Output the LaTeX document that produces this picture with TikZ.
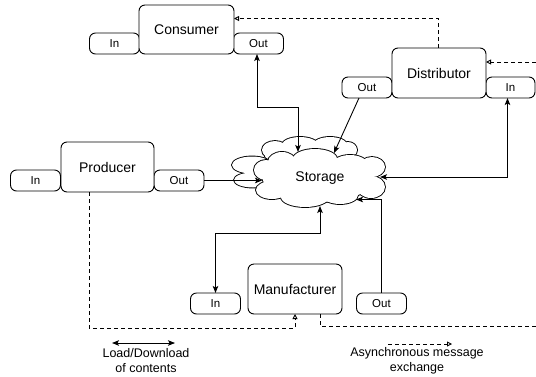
\documentclass[tikz,border=0pt]{standalone}
\usepackage{fontspec}
\setmainfont{Liberation Sans}
\usetikzlibrary{arrows.meta}

% A cloud as the union of ellipses (cx/cy/rx/ry): a doubled stroke first,
% then a white fill that wipes the inner half of every stroke, so only the
% outline of the union stays visible.
\newcommand\puffunion[1]{%
  \foreach \cx/\cy/\rx/\ry in {#1}
    \draw[line width=1.8pt] (\cx,\cy) ellipse[x radius=\rx, y radius=\ry];
  \foreach \cx/\cy/\rx/\ry in {#1}
    \fill[white] (\cx,\cy) ellipse[x radius=\rx, y radius=\ry];
}

\tikzset{
  every node/.style={inner sep=0pt, outer sep=0pt},
  role/.style={draw, line width=0.9pt, rounded corners=6pt, minimum width=94pt,
    minimum height=50pt, font=\fontsize{14}{16}\selectfont, fill=white},
  pin/.style={draw, line width=0.9pt, rounded corners=6pt, minimum width=50pt,
    minimum height=21pt, font=\fontsize{11.5}{13}\selectfont, fill=white},
  legend/.style={align=center, font=\fontsize{12.5}{15}\selectfont},
  flow/.style={line width=0.9pt, -{Stealth[length=7pt,width=5.5pt,inset=1.5pt]}},
  dflow/.style={line width=0.9pt, {Stealth[length=7pt,width=5.5pt,inset=1.5pt]}-{Stealth[length=7pt,width=5.5pt,inset=1.5pt]}},
  async/.style={line width=0.9pt, dash pattern=on 4pt off 3pt,
    -{Triangle[open,length=5pt,width=5pt,fill=white]}},
  asyncplain/.style={line width=0.9pt, dash pattern=on 4pt off 3pt},
}

\begin{document}
\begin{tikzpicture}[x=1pt,y=-1pt]
\useasboundingbox[fill=white] (0,0) rectangle (536,376);

% storage: upper and left clouds behind, main cloud in front
\puffunion{275/150/13/9, 300/145/18/8, 330/145/17/8, 348/150/9/8, 310/156/45/10}
\puffunion{252/165/20/8.5, 253/180/19/7.5, 265/172/12/12}
\puffunion{318/180/55/22, 282/162/14/10, 315/159/22/10, 350/165/18/10,
  372/167/13/10, 371/187/14/11, 340/195/18/9, 305/197/24/10,
  272/190/16/9, 266/170/12/10}
\node[font=\fontsize{14}{16}\selectfont] (storage) at (320,178) {Storage};

% attachment points on the storage cloud
\coordinate (sTop1) at (298,152);
\coordinate (sTop2) at (334,153);
\coordinate (sRight) at (380,177);
\coordinate (sLeft) at (262,180.5);
\coordinate (sBot1) at (320,206);
\coordinate (sBot2) at (356,199.5);

% actors and their in/out ports
\node[pin] (cIn) at (114.5,43.5) {In};
\node[pin] (cOut) at (258.5,43.5) {Out};
\node[role, minimum width=95pt, minimum height=49pt] (cons) at (186.5,29.5) {Consumer};

\node[pin] (dOut) at (367,87.5) {Out};
\node[pin, minimum width=49pt] (dIn) at (510.5,87.5) {In};
\node[role] (dist) at (439,73) {Distributor};

\node[pin] (pIn) at (35.5,180.5) {In};
\node[pin] (pOut) at (179,180.5) {Out};
\node[role, minimum width=93pt] (prod) at (107.5,167) {Producer};

\node[pin] (mIn) at (215.5,303.5) {In};
\node[pin] (mOut) at (381.5,303.5) {Out};
\node[role] (man) at (295,289) {Manufacturer};

% load / download connections
\coordinate (k1) at (298,107);
\draw[dflow] ([xshift=-1.5pt]cOut.south) |- (k1) -- (sTop1);
\draw[flow] ([xshift=-8pt]dOut.south) -- (sTop2);
\draw[dflow] ([xshift=-3pt]dIn.south) |- (sRight);
\draw[flow] (pOut.east) -- (sLeft);
\coordinate (k2) at (320,233);
\draw[dflow] (mIn.north) |- (k2) -- (sBot1);
\draw[flow] (mOut.north) |- (sBot2);

% asynchronous messages
\coordinate (rEdge1) at (536,62);
\coordinate (rEdge2) at (536,326);
\coordinate (k3) at (295,328);
\draw[async] ([xshift=-1pt]dist.north) |- ([yshift=11pt]cons.east);
\draw[async] (rEdge1) -- ([yshift=11pt]dist.east);
\draw[async] ([xshift=-18.5pt]prod.south) |- (k3) -- (man.south);
\draw[asyncplain] ([xshift=25pt]man.south) |- (rEdge2);

% legend
\coordinate (lA) at (112,343);
\coordinate (lB) at (175,343);
\draw[dflow] (lA) -- (lB);
\node[legend] (lText1) at (146,360.5) {Load/Download\\of contents};
\coordinate (lC) at (388,344);
\coordinate (lD) at (452,344);
\draw[async] (lC) -- (lD);
\node[legend] (lText2) at (417,360.5) {Asynchronous message\\exchange};
\end{tikzpicture}
\end{document}
